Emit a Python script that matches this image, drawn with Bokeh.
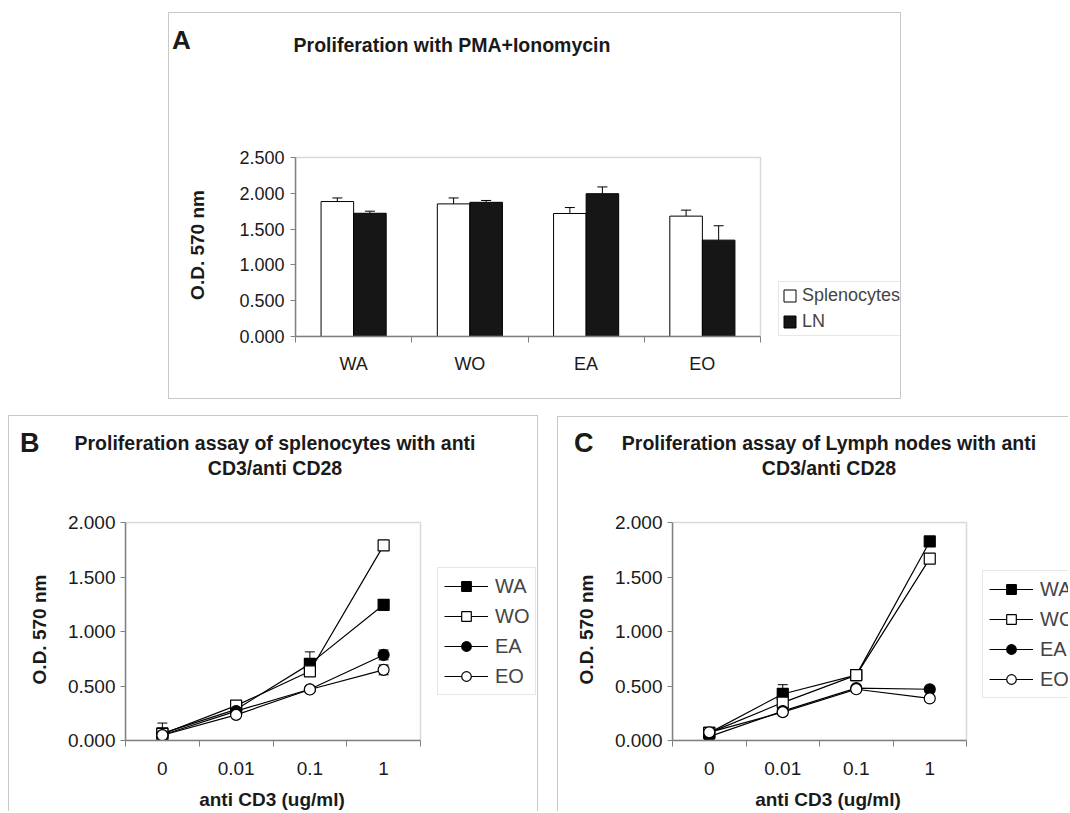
from bokeh.plotting import figure
from bokeh.models import (Range1d, FixedTicker, ColumnDataSource, Whisker, TeeHead,
                          Legend, LegendItem, Spacer, Div, NumeralTickFormatter,
                          BoxAnnotation)
from bokeh.layouts import row, column
from bokeh.embed import file_html
from bokeh.resources import INLINE

# ---------------- data ----------------
# Panel A
groups = ["WA", "WO", "EA", "EO"]
splenocytes = [1.885, 1.852, 1.718, 1.681]
splenocytes_err = [0.050, 0.083, 0.083, 0.084]
ln_vals = [1.721, 1.874, 1.994, 1.346]
ln_err = [0.029, 0.026, 0.095, 0.201]

# Panels B / C
doses = ["0", "0.01", "0.1", "1"]
spl_WA = [0.065, 0.285, 0.703, 1.245]
spl_WA_err = [0.095, 0.0, 0.110, 0.025]
spl_WO = [0.060, 0.320, 0.635, 1.790]
spl_WO_err = [0.0, 0.0, 0.0, 0.0]
spl_EA = [0.050, 0.270, 0.470, 0.785]
spl_EA_err = [0.0, 0.0, 0.0, 0.045]
spl_EO = [0.048, 0.235, 0.468, 0.648]
spl_EO_err = [0.0, 0.0, 0.0, 0.045]

lymph_WA = [0.070, 0.427, 0.600, 1.826]
lymph_WA_err = [0.0, 0.085, 0.0, 0.0]
lymph_WO = [0.070, 0.348, 0.600, 1.668]
lymph_WO_err = [0.0, 0.0, 0.0, 0.0]
lymph_EA = [0.035, 0.270, 0.480, 0.470]
lymph_EA_err = [0.0, 0.0, 0.0, 0.015]
lymph_EO = [0.075, 0.260, 0.470, 0.386]
lymph_EO_err = [0.0, 0.0, 0.0, 0.0]

y_ticks_A = [0.0, 0.5, 1.0, 1.5, 2.0, 2.5]
y_ticks_BC = [0.0, 0.5, 1.0, 1.5, 2.0]

GRAY = "#808080"
FRAME = "#c8c8c8"
SANS = "Liberation Sans"
INK = "#1a1a1a"
TOPPAD = 4  # px of frame kept above the plot box


def base_fig(w, h, ml, plot_w, plot_h, mb, ymax, cats, yticks, tsize,
             xstand, ystand, ylab, ylab_stand):
    ncat = len(cats)
    frame_w = w - ml
    frame_h = plot_h + TOPPAD
    p = figure(width=w, height=h, output_backend="svg", toolbar_location=None,
               x_range=Range1d(0, ncat * frame_w / plot_w),
               y_range=Range1d(0, ymax * frame_h / plot_h),
               min_border_left=ml, min_border_right=0,
               min_border_top=h - mb - frame_h, min_border_bottom=mb)
    p.xgrid.visible = False
    p.ygrid.visible = False
    p.outline_line_color = None
    p.background_fill_color = "white"
    p.border_fill_color = "white"
    p.add_layout(BoxAnnotation(left=0, right=ncat, bottom=0, top=ymax,
                               fill_color=None, line_color=GRAY, line_width=1.5))
    centers = [i + 0.5 for i in range(ncat)]
    bounds = [float(i) for i in range(ncat + 1)]
    xa = p.xaxis[0]
    xa.bounds = (0, ncat)
    xa.ticker = FixedTicker(ticks=centers, minor_ticks=bounds)
    xa.major_label_overrides = {c: lab for c, lab in zip(centers, cats)}
    xa.major_tick_line_color = None
    xa.minor_tick_line_color = GRAY
    xa.minor_tick_out = 6
    xa.minor_tick_in = 0
    xa.axis_line_color = GRAY
    xa.axis_line_width = 1.5
    xa.major_label_text_font = SANS
    xa.major_label_text_font_size = tsize
    xa.major_label_text_color = INK
    xa.major_label_standoff = xstand
    ya = p.yaxis[0]
    ya.bounds = (0, ymax)
    ya.ticker = FixedTicker(ticks=yticks)
    ya.formatter = NumeralTickFormatter(format="0.000")
    ya.major_tick_line_color = GRAY
    ya.major_tick_out = 5
    ya.major_tick_in = 0
    ya.minor_tick_line_color = None
    ya.axis_line_color = GRAY
    ya.axis_line_width = 1.5
    ya.major_label_text_font = SANS
    ya.major_label_text_font_size = tsize
    ya.major_label_text_color = INK
    ya.major_label_standoff = ystand
    ya.axis_label = ylab
    ya.axis_label_text_font = SANS
    ya.axis_label_text_font_style = "bold"
    ya.axis_label_text_font_size = "19px"
    ya.axis_label_text_color = INK
    ya.axis_label_standoff = ylab_stand
    return p


def add_whiskers(p, xs, vals, errs, both=False):
    bx, up, lo = [], [], []
    for x, v, e in zip(xs, vals, errs):
        if e > 0:
            bx.append(x)
            up.append(v + e)
            lo.append(v - e if both else v)
    if not bx:
        return
    src = ColumnDataSource(dict(base=bx, upper=up, lower=lo))
    w = Whisker(base="base", upper="upper", lower="lower", source=src,
                dimension="height", line_color="black", line_width=1,
                upper_head=TeeHead(size=10, line_color="black", line_width=1),
                lower_head=TeeHead(size=10, line_color="black", line_width=1) if both else None)
    p.add_layout(w)


def text_div(w, h, letter, lx, ly, lsize, lines, cx, cy0, dy, tsize):
    parts = ['<div style="position:relative;width:%dpx;height:%dpx;overflow:hidden;'
             'font-family:\'Liberation Sans\',sans-serif;color:%s;font-weight:bold;'
             'white-space:nowrap;">' % (w, h, INK)]
    if letter:
        parts.append('<div style="position:absolute;left:%dpx;top:%dpx;height:40px;'
                     'line-height:40px;font-size:%spx;">%s</div>' % (lx, ly - 20, lsize, letter))
    for i, t in enumerate(lines):
        cy = cy0 + i * dy
        parts.append('<div style="position:absolute;left:%dpx;width:600px;text-align:center;'
                     'top:%dpx;height:30px;line-height:30px;font-size:%spx;">%s</div>'
                     % (cx - 300, cy - 15, tsize, t))
    parts.append('</div>')
    return Div(text="".join(parts), width=w, height=h, margin=0)


# ---------------- Panel A ----------------
pA = base_fig(731, 256, 126, 465, 179, 62, 2.5, groups, y_ticks_A, "18px",
              11, 6, "O.D. 570 nm", 28)
bar_w = 0.28
xs_s = [i + 0.5 - bar_w / 2 for i in range(len(groups))]
xs_l = [i + 0.5 + bar_w / 2 for i in range(len(groups))]
r_s = pA.vbar(x=xs_s, top=splenocytes, width=bar_w, bottom=0,
              fill_color="white", line_color="black", line_width=1)
r_l = pA.vbar(x=xs_l, top=ln_vals, width=bar_w, bottom=0,
              fill_color="#161616", line_color="black", line_width=1)
add_whiskers(pA, xs_s, splenocytes, splenocytes_err)
add_whiskers(pA, xs_l, ln_vals, ln_err)
legA = Legend(items=[LegendItem(label="Splenocytes", renderers=[r_s]),
                     LegendItem(label="LN", renderers=[r_l])],
              location=(483, 0), margin=0, padding=3, spacing=5,
              glyph_width=15, glyph_height=15, label_height=20, label_standoff=5,
              label_text_font=SANS, label_text_font_size="18px",
              border_line_color="#d0d0d0", border_line_width=1,
              background_fill_color="white")
pA.add_layout(legA)
hA = text_div(731, 129, "A", 3, 27, 26, ["Proliferation with PMA+Ionomycin"], 283, 32, 25, 19.5)
panelA = column(hA, pA, styles={"border": "1px solid " + FRAME})


# ---------------- Panels B, C ----------------
def line_panel(w, ml, plot_w, series, legloc):
    p = base_fig(w, 273, ml, plot_w, 218, 40, 2.0, doses, y_ticks_BC, "19px",
                 15, 5, "O.D. 570 nm", 15)
    xs = [i + 0.5 for i in range(len(doses))]
    items = []
    for name, vals, errs, marker, fill in series:
        ln_r = p.line(xs, vals, line_color="black", line_width=1.2)
        add_whiskers(p, xs, vals, errs, both=True)
        sc = p.scatter(xs, vals, marker=marker, size=11, fill_color=fill,
                       line_color="black", line_width=1.2)
        items.append(LegendItem(label=name, renderers=[ln_r, sc]))
    leg = Legend(items=items, location=legloc, margin=0, padding=6, spacing=6,
                 glyph_width=44, glyph_height=24, label_height=24, label_standoff=7,
                 label_text_font=SANS, label_text_font_size="20px",
                 border_line_color="#d0d0d0", border_line_width=1,
                 background_fill_color="white")
    p.add_layout(leg)
    return p


series_B = [("WA", spl_WA, spl_WA_err, "square", "black"),
            ("WO", spl_WO, spl_WO_err, "square", "white"),
            ("EA", spl_EA, spl_EA_err, "circle", "black"),
            ("EO", spl_EO, spl_EO_err, "circle", "white")]
series_C = [("WA", lymph_WA, lymph_WA_err, "square", "black"),
            ("WO", lymph_WO, lymph_WO_err, "square", "white"),
            ("EA", lymph_EA, lymph_EA_err, "circle", "black"),
            ("EO", lymph_EO, lymph_EO_err, "circle", "white")]

XTITLE = "anti CD3 (ug/ml)"

pB = line_panel(528, 116, 295, series_B, (312, 45))
hB = text_div(528, 91, "B", 11, 27, 27,
              ["Proliferation assay of splenocytes with anti", "CD3/anti CD28"],
              266, 27, 25, 19.5)
fB = text_div(528, 31, None, 0, 0, 0, [XTITLE], 263, 20, 0, 19)
panelB = column(hB, pB, fB, styles={"border-left": "1px solid " + FRAME,
                                    "border-top": "1px solid " + FRAME,
                                    "border-right": "1px solid " + FRAME})

pC = line_panel(510, 114, 294, series_C, (310, 42))
hC = text_div(510, 90, "C", 16, 26, 27,
              ["Proliferation assay of Lymph nodes with anti", "CD3/anti CD28"],
              271, 26, 25, 19.5)
fC = text_div(510, 31, None, 0, 0, 0, [XTITLE], 270, 20, 0, 19)
panelC = column(hC, pC, fC, styles={"border-left": "1px solid " + FRAME,
                                    "border-top": "1px solid " + FRAME})

top = row(Spacer(width=168, height=1), panelA)
bottom = row(Spacer(width=8, height=1), panelB, Spacer(width=19, height=1),
             column(Spacer(width=1, height=1), panelC))
layout = column(Spacer(width=1, height=12), top, Spacer(width=1, height=16), bottom)

open("out.html", "w").write(file_html(layout, INLINE))
